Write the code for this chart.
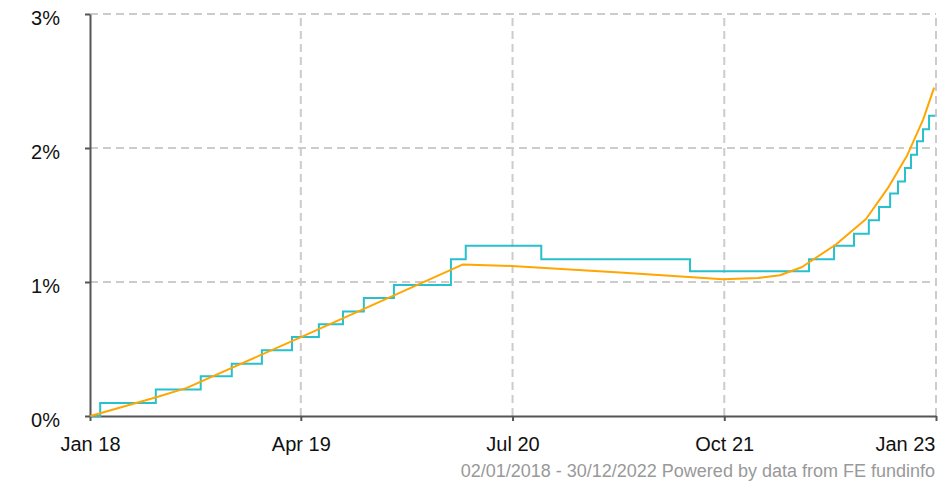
<!DOCTYPE html>
<html>
<head>
<meta charset="utf-8">
<script src="https://cdn.jsdelivr.net/npm/d3@7"></script>
<style>
  body { margin: 0; background: #fff; }
  svg { display: block; font-family: Arial, "Liberation Sans", sans-serif; }
</style>
</head>
<body>
<div id="chart"></div>
<script>
// --------------- Data ---------------
// stepped series (date of each level change, value in %)
const STEP_DATES = [
  "2018-01-02", "2018-01-23", "2018-05-23", "2018-08-28", "2018-11-03",
  "2019-01-07", "2019-03-13", "2019-05-10", "2019-07-01", "2019-08-15",
  "2019-10-19", "2020-02-19", "2020-03-22", "2020-09-01", "2021-07-19",
  "2022-04-02", "2022-05-26", "2022-07-08", "2022-08-09", "2022-08-31",
  "2022-09-24", "2022-10-11", "2022-10-26", "2022-11-08", "2022-11-21",
  "2022-12-04", "2022-12-17", "2022-12-30"
];
const STEP_VALUES = [
  0, 0.097, 0.197, 0.297, 0.39,
  0.49, 0.59, 0.685, 0.78, 0.88,
  0.977, 1.17, 1.27, 1.17, 1.08,
  1.17, 1.27, 1.36, 1.46, 1.56,
  1.66, 1.75, 1.85, 1.95, 2.05,
  2.14, 2.24, 2.24
];

// smooth series
const CURVE_DATES = [
  "2018-01-02", "2018-05-24", "2018-07-29", "2019-03-30", "2020-03-15",
  "2020-06-29", "2021-02-18", "2021-09-28", "2021-12-13", "2022-01-29",
  "2022-03-17", "2022-05-30", "2022-08-03", "2022-09-19", "2022-10-30",
  "2022-12-04", "2022-12-28"
];
const CURVE_VALUES = [
  0, 0.14, 0.21, 0.585, 1.13,
  1.12, 1.07, 1.02, 1.03, 1.05,
  1.11, 1.28, 1.47, 1.70, 1.94,
  2.21, 2.45
];

const X_TICKS = ["2018-01-01", "2019-04-01", "2020-07-01", "2021-10-01", "2023-01-01"];
const Y_TICKS = [0, 1, 2, 3];
const FOOTER = "02/01/2018 - 30/12/2022 Powered by data from FE fundinfo";

// --------------- Constants ---------------
const WIDTH = 949;
const HEIGHT = 483;
const MARGINS = { top: 14, right: 13, bottom: 67, left: 90 };
const STEP_COLOR = "#27c0cc";
const CURVE_COLOR = "#ffa600";
const GRID_COLOR = "#cccccc";
const AXIS_COLOR = "#555555";

const parse = d3.timeParse("%Y-%m-%d");

const stepData = STEP_DATES.map((d, i) => ({ date: parse(d), value: STEP_VALUES[i] }));
const curveData = CURVE_DATES.map((d, i) => ({ date: parse(d), value: CURVE_VALUES[i] }));

// --------------- Prep SVG ---------------
const svg = d3
  .select("#chart")
  .append("svg")
  .attr("width", WIDTH)
  .attr("height", HEIGHT);

const x = d3
  .scaleTime()
  .domain([parse(X_TICKS[0]), parse(X_TICKS[X_TICKS.length - 1])])
  .range([MARGINS.left, WIDTH - MARGINS.right]);

const y = d3
  .scaleLinear()
  .domain([0, 3])
  .range([HEIGHT - MARGINS.bottom, MARGINS.top]);

// grid lines
svg
  .append("g")
  .selectAll("line")
  .data(Y_TICKS.slice(1))
  .join("line")
  .attr("x1", MARGINS.left)
  .attr("x2", WIDTH - MARGINS.right)
  .attr("y1", (d) => y(d))
  .attr("y2", (d) => y(d))
  .attr("stroke", GRID_COLOR)
  .attr("stroke-width", 2)
  .attr("stroke-dasharray", "8,5");

svg
  .append("g")
  .selectAll("line")
  .data(X_TICKS.slice(1))
  .join("line")
  .attr("x1", (d) => x(parse(d)))
  .attr("x2", (d) => x(parse(d)))
  .attr("y1", y(0))
  .attr("y2", y(3))
  .attr("stroke", GRID_COLOR)
  .attr("stroke-width", 2)
  .attr("stroke-dasharray", "8,5");

// axes
const xAxis = svg
  .append("g")
  .attr("transform", `translate(0,${y(0)})`)
  .call(
    d3
      .axisBottom(x)
      .tickValues(X_TICKS.map(parse))
      .tickFormat(d3.timeFormat("%b %y"))
      .tickSize(5)
      .tickPadding(16)
      .tickSizeOuter(0)
  );

const yAxis = svg
  .append("g")
  .attr("transform", `translate(${MARGINS.left},0)`)
  .call(
    d3
      .axisLeft(y)
      .tickValues(Y_TICKS)
      .tickFormat((d) => d + "%")
      .tickSize(5)
      .tickPadding(25)
      .tickSizeOuter(0)
  );

[xAxis, yAxis].forEach((g) => {
  g.select(".domain").attr("stroke", AXIS_COLOR).attr("stroke-width", 2);
  g.selectAll(".tick line").attr("stroke", AXIS_COLOR).attr("stroke-width", 2);
  g.selectAll(".tick text")
    .attr("fill", "#111")
    .attr("font-size", 20)
    .attr("font-family", "Arial, 'Liberation Sans', sans-serif");
});
yAxis.selectAll(".tick text").attr("dy", "0.52em");
// last label sits inside the plot's right edge
xAxis
  .selectAll(".tick text")
  .filter((d, i, nodes) => i === nodes.length - 1)
  .attr("text-anchor", "end")
  .attr("x", -1);

// lines
const stepLine = d3
  .line()
  .x((d) => x(d.date))
  .y((d) => y(d.value))
  .curve(d3.curveStepAfter);

svg
  .append("path")
  .datum(stepData)
  .attr("d", stepLine)
  .attr("fill", "none")
  .attr("stroke", STEP_COLOR)
  .attr("stroke-width", 2);

const curveLine = d3
  .line()
  .x((d) => x(d.date))
  .y((d) => y(d.value));

svg
  .append("path")
  .datum(curveData)
  .attr("d", curveLine)
  .attr("fill", "none")
  .attr("stroke", CURVE_COLOR)
  .attr("stroke-width", 2)
  .attr("stroke-linejoin", "round");

// footer
svg
  .append("text")
  .attr("x", WIDTH - MARGINS.right - 1)
  .attr("y", 477)
  .attr("text-anchor", "end")
  .attr("font-size", 18)
  .attr("fill", "#999")
  .text(FOOTER);
</script>
</body>
</html>
